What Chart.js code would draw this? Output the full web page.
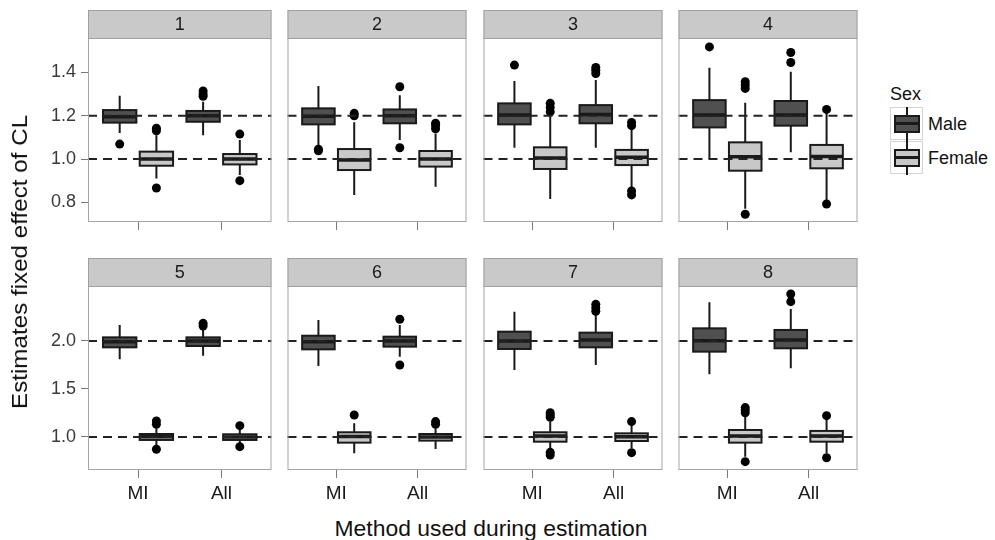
<!DOCTYPE html>
<html>
<head>
<meta charset="utf-8">
<script src="https://cdn.jsdelivr.net/npm/chart.js@4.4.1/dist/chart.umd.min.js"></script>
<style>
  body { margin: 0; background: #fff; width: 995px; height: 540px; position: relative; overflow: hidden;
         font-family: "Liberation Sans", Arial, Helvetica, sans-serif; }
  .txt { position: absolute; white-space: nowrap; line-height: 1; color: #111; }
  .key { position: absolute; width: 33px; height: 33px; border: 1px solid #d4d4d4; box-sizing: border-box; }
  .key .wh { position: absolute; left: 15px; width: 2px; height: 34px; top: -1px; background: #1a1a1a; }
  .key .bx { position: absolute; left: 3px; top: 7px; width: 26px; height: 18px; border: 2px solid #1a1a1a; box-sizing: border-box; }
  .key .md { position: absolute; left: 3px; top: 14px; width: 26px; height: 3px; background: #1a1a1a; }
</style>
</head>
<body>
<script>
// facets, x groups and fill groups
const panelNames = ['1', '2', '3', '4', '5', '6', '7', '8'];
const methods = ['MI', 'All'];
const sexes = ['Male', 'Female'];
const sexColors = ['#505050', '#c8c8c8'];

// y axes of the two rows
const ticksTop = [0.8, 1.0, 1.2, 1.4];
const ticksBottom = [1.0, 1.5, 2.0];
const rangeTop = [0.709, 1.559];
const rangeBottom = [0.656, 2.573];
const refTop = [1.2, 1.0];
const refBottom = [2.0, 1.0];

// box stats [low whisker, q1, median, q3, high whisker]
// order: MI-Male, MI-Female, All-Male, All-Female
const box1 = [[1.12, 1.168, 1.195, 1.226, 1.292], [0.91, 0.969, 1.0, 1.034, 1.11],
              [1.11, 1.172, 1.20, 1.222, 1.264], [0.926, 0.975, 1.0, 1.023, 1.088]];
const box2 = [[1.06, 1.16, 1.198, 1.234, 1.337], [0.834, 0.949, 0.995, 1.046, 1.17],
              [1.088, 1.165, 1.2, 1.229, 1.295], [0.872, 0.965, 1.0, 1.037, 1.118]];
const box3 = [[1.052, 1.16, 1.203, 1.257, 1.36], [0.815, 0.954, 1.005, 1.054, 1.2],
              [1.052, 1.165, 1.206, 1.249, 1.365], [0.865, 0.972, 1.008, 1.042, 1.14]];
const box4 = [[1.0, 1.146, 1.203, 1.272, 1.421], [0.77, 0.946, 1.01, 1.077, 1.26],
              [1.031, 1.154, 1.203, 1.268, 1.403], [0.81, 0.957, 1.012, 1.065, 1.22]];
const box5 = [[1.81, 1.934, 1.993, 2.038, 2.167], [0.917, 0.969, 1.003, 1.031, 1.09],
              [1.847, 1.948, 2.0, 2.038, 2.115], [0.934, 0.969, 1.0, 1.028, 1.073]];
const box6 = [[1.74, 1.913, 1.993, 2.055, 2.219], [0.83, 0.941, 1.005, 1.049, 1.142],
              [1.837, 1.941, 2.0, 2.045, 2.167], [0.875, 0.962, 1.0, 1.031, 1.09]];
const box7 = [[1.698, 1.917, 2.0, 2.097, 2.305], [0.88, 0.951, 1.01, 1.049, 1.16],
              [1.75, 1.934, 2.01, 2.087, 2.27], [0.882, 0.958, 1.003, 1.038, 1.12]];
const box8 = [[1.653, 1.889, 2.003, 2.132, 2.403], [0.795, 0.941, 1.01, 1.073, 1.21],
              [1.716, 1.924, 2.01, 2.115, 2.333], [0.83, 0.951, 1.01, 1.063, 1.18]];

// outliers, same order
const out1 = [[1.069], [1.142, 1.13, 0.866], [1.314, 1.30, 1.29], [1.115, 0.90]];
const out2 = [[1.038, 1.045], [1.211, 1.20], [1.334, 1.052], [1.165, 1.155, 1.14]];
const out3 = [[1.434], [1.257, 1.238, 1.218], [1.423, 1.41, 1.395], [1.169, 1.154, 0.852, 0.834]];
const out4 = [[1.518], [1.357, 1.342, 1.326, 0.745], [1.492, 1.446], [1.229, 0.792]];
const out5 = [[], [1.167, 1.132, 0.872], [2.184, 2.156], [1.118, 0.899]];
const out6 = [[], [1.229], [2.226, 1.75], [1.16, 1.132]];
const out7 = [[], [1.253, 1.229, 1.205, 0.84, 0.8125], [2.382, 2.347, 2.31], [1.16, 0.837]];
const out8 = [[], [1.306, 1.28, 1.253, 0.743], [2.49, 2.41], [1.222, 0.784]];

const boxes = [box1, box2, box3, box4, box5, box6, box7, box8];
const outs = [out1, out2, out3, out4, out5, out6, out7, out8];

// layout
const panelLeft = [88, 283, 479, 674];
const panelW = 188, panelH = 184, stripH = 28;
const rowTop = [10, 258];
const dodge = [-0.22, 0.22];
const halfW = 0.2;
const FONT = '"Liberation Sans", Arial, Helvetica, sans-serif';

function makePanel(i) {
  const row = Math.floor(i / 4), col = i % 4;
  const yw = col === 0 ? 60 : 0;
  const xh = row === 1 ? 40 : 10;
  const wrap = document.createElement('div');
  wrap.style.cssText = `position:absolute;left:${panelLeft[col] - yw}px;top:${rowTop[row]}px;` +
                       `width:${panelW + yw}px;height:${stripH + panelH + xh}px`;
  const cv = document.createElement('canvas');
  wrap.appendChild(cv);
  document.body.appendChild(wrap);

  const stats = boxes[i];
  const refs = row === 0 ? refTop : refBottom;
  const yTicks = row === 0 ? ticksTop : ticksBottom;
  const range = row === 0 ? rangeTop : rangeBottom;

  // outlier points per sex
  const pts = [[], []];
  outs[i].forEach((arr, g) => {
    const s = g % 2, m = Math.floor(g / 2);
    arr.forEach(v => pts[s].push({x: m + 1 + dodge[s], y: v}));
  });

  const boxPlugin = {
    id: 'boxes' + i,
    beforeDatasetsDraw(chart) {
      const {ctx, scales: {x, y}} = chart;
      ctx.save();
      stats.forEach((st, g) => {
        const s = g % 2, cx = Math.floor(g / 2) + 1 + dodge[s];
        const xl = x.getPixelForValue(cx - halfW), xr = x.getPixelForValue(cx + halfW);
        const xc = x.getPixelForValue(cx);
        const [lo, q1, md, q3, hi] = st.map(v => y.getPixelForValue(v));
        ctx.strokeStyle = '#1a1a1a';
        ctx.lineWidth = 2;
        ctx.beginPath();
        ctx.moveTo(xc, lo); ctx.lineTo(xc, q1);
        ctx.moveTo(xc, q3); ctx.lineTo(xc, hi);
        ctx.stroke();
        ctx.fillStyle = sexColors[s];
        ctx.fillRect(xl, q3, xr - xl, q1 - q3);
        ctx.strokeRect(xl, q3, xr - xl, q1 - q3);
        ctx.lineWidth = 3.5;
        ctx.beginPath();
        ctx.moveTo(xl, md); ctx.lineTo(xr, md);
        ctx.stroke();
      });
      ctx.restore();
    },
    afterDatasetsDraw(chart) {
      const {ctx, chartArea: a, scales: {y}} = chart;
      ctx.save();
      ctx.strokeStyle = '#222';
      ctx.lineWidth = 2;
      ctx.setLineDash([9, 6]);
      refs.forEach(r => {
        const py = y.getPixelForValue(r);
        ctx.beginPath();
        ctx.moveTo(a.left, py); ctx.lineTo(a.right, py);
        ctx.stroke();
      });
      ctx.restore();
    },
    afterDraw(chart) {
      const {ctx, chartArea: a} = chart;
      ctx.save();
      ctx.strokeStyle = '#a5a5a5';
      ctx.lineWidth = 1;
      ctx.strokeRect(a.left + 0.5, a.top + 0.5, a.right - a.left - 1, a.bottom - a.top - 1);
      // facet strip
      ctx.fillStyle = '#c9c9c9';
      ctx.fillRect(a.left, a.top - stripH, a.right - a.left, stripH);
      ctx.strokeStyle = '#a0a0a0';
      ctx.strokeRect(a.left + 0.5, a.top - stripH + 0.5, a.right - a.left - 1, stripH);
      ctx.fillStyle = '#1a1a1a';
      ctx.font = `18px ${FONT}`;
      ctx.textAlign = 'center';
      ctx.textBaseline = 'middle';
      ctx.fillText(panelNames[i], (a.left + a.right) / 2, a.top - stripH / 2 + 1);
      ctx.restore();
    }
  };

  new Chart(cv, {
    type: 'scatter',
    data: {
      datasets: sexes.map((s, k) => ({
        label: s,
        data: pts[k],
        pointRadius: 4.5,
        pointBackgroundColor: '#000',
        pointBorderWidth: 0
      }))
    },
    options: {
      responsive: true,
      maintainAspectRatio: false,
      animation: false,
      events: [],
      layout: {padding: {top: stripH, left: 0, right: 0, bottom: 0}},
      plugins: {legend: {display: false}, tooltip: {enabled: false}},
      scales: {
        x: {
          type: 'linear', min: 0.4, max: 2.6, bounds: 'data',
          afterBuildTicks: sc => { sc.ticks = methods.map((m, k) => ({value: k + 1})); },
          afterFit: sc => { sc.height = xh; sc.paddingLeft = 0; sc.paddingRight = 0; },
          ticks: {
            display: row === 1, autoSkip: false, maxRotation: 0, padding: 4,
            color: '#1a1a1a', font: {size: 19, family: FONT},
            callback: v => methods[v - 1] || ''
          },
          grid: {drawOnChartArea: false, tickLength: 8, tickColor: '#7a7a7a', lineWidth: 1},
          border: {display: false}
        },
        y: {
          display: col === 0,
          min: range[0], max: range[1], bounds: 'data',
          afterBuildTicks: sc => { sc.ticks = yTicks.map(v => ({value: v})); },
          afterFit: sc => { sc.width = yw; sc.paddingTop = 0; sc.paddingBottom = 0; },
          ticks: {
            padding: 5, color: '#3a3a3a', font: {size: 18, family: FONT},
            callback: v => Number(v).toFixed(1)
          },
          grid: {drawOnChartArea: false, tickLength: 7, tickColor: '#7a7a7a', lineWidth: 1},
          border: {display: false}
        }
      }
    },
    plugins: [boxPlugin]
  });
}

panelNames.forEach((p, i) => makePanel(i));

// axis titles
const xt = document.createElement('div');
xt.className = 'txt';
xt.textContent = 'Method used during estimation';
xt.style.cssText = 'left:491px;top:518px;font-size:22px;transform:translateX(-50%) scaleX(1.04);';
document.body.appendChild(xt);

const yt = document.createElement('div');
yt.className = 'txt';
yt.textContent = 'Estimates fixed effect of CL';
yt.style.cssText = 'left:20px;top:262px;font-size:22px;transform:translate(-50%,-50%) rotate(-90deg) scaleX(1.1);';
document.body.appendChild(yt);

// legend
const lt = document.createElement('div');
lt.className = 'txt';
lt.textContent = 'Sex';
lt.style.cssText = 'left:890px;top:85px;font-size:18px;';
document.body.appendChild(lt);

sexes.forEach((s, k) => {
  const key = document.createElement('div');
  key.className = 'key';
  key.style.left = '890px';
  key.style.top = (107 + k * 34) + 'px';
  key.innerHTML = `<div class="wh"></div><div class="bx" style="background:${sexColors[k]}"></div><div class="md"></div>`;
  document.body.appendChild(key);
  const lab = document.createElement('div');
  lab.className = 'txt';
  lab.textContent = s;
  lab.style.cssText = `left:928px;top:${115 + k * 34}px;font-size:18px;`;
  document.body.appendChild(lab);
});
</script>
</body>
</html>
